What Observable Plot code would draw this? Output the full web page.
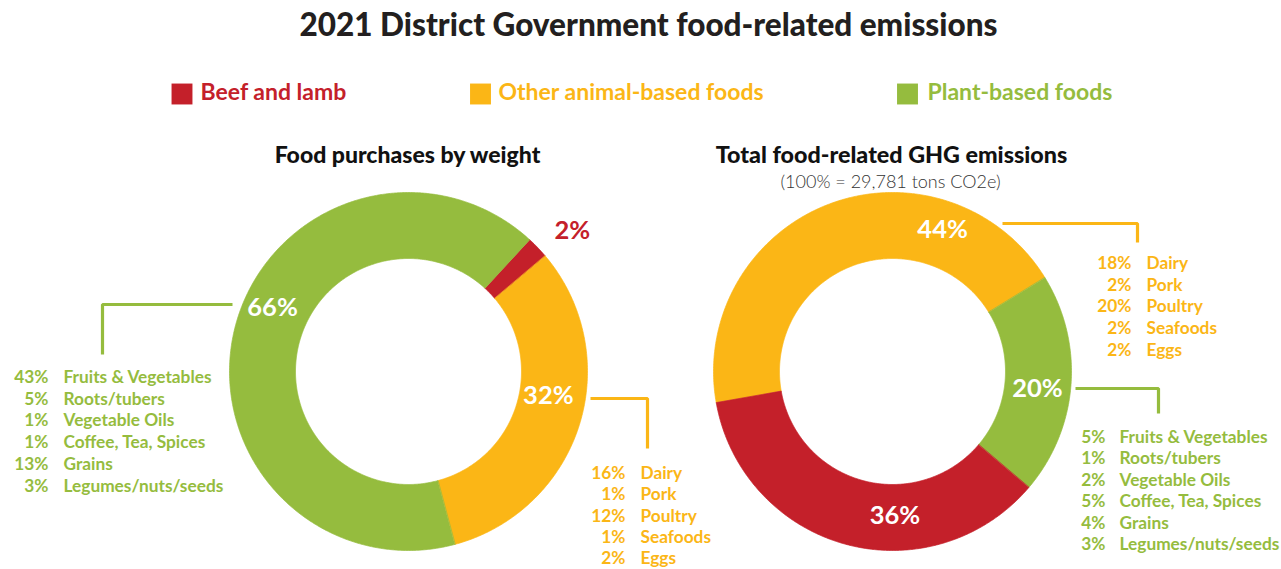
<!DOCTYPE html>
<html>
<head>
<meta charset="utf-8">
<script src="https://cdn.jsdelivr.net/npm/d3@7"></script>
<script src="https://cdn.jsdelivr.net/npm/@observablehq/plot@0.6"></script>
<style>
  html, body { margin: 0; padding: 0; background: #fff; }
  #chart svg { display: block; }
</style>
</head>
<body>
<div id="chart"></div>
<script>
// ---------------- DATA ----------------
const groups = ["Beef and lamb", "Other animal-based foods", "Plant-based foods"];
const groupColors = ["#C4202A", "#FBB616", "#95BC3E"];

// Food purchases by weight (%), per group
const weightShares = [2, 32, 66];
// Total food-related GHG emissions (%), per group
const emissionShares = [36, 44, 20];

const animalItems = ["Dairy", "Pork", "Poultry", "Seafoods", "Eggs"];
const animalWeight = [16, 1, 12, 1, 2];
const animalEmissions = [18, 2, 20, 2, 2];

const plantItems = ["Fruits & Vegetables", "Roots/tubers", "Vegetable Oils", "Coffee, Tea, Spices", "Grains", "Legumes/nuts/seeds"];
const plantWeight = [43, 5, 1, 1, 13, 3];
const plantEmissions = [5, 1, 2, 5, 4, 3];

const titleText = "2021 District Government food-related emissions";
const leftTitle = "Food purchases by weight";
const rightTitle = "Total food-related GHG emissions";
const rightSubtitle = "(100% = 29,781 tons CO2e)";

// ---------------- LAYOUT ----------------
const W = 1281, H = 569;
const FONT = "Lato, 'Open Sans', sans-serif";
const ring = {outer: 179, inner: 113};
const deg = Math.PI / 180;
const donuts = [
  {id: "weight", cx: 408, cy: 371, values: weightShares, order: [0, 1, 2], start: 42.6,
   labels: [
     {g: 0, angle: 49.3, r: 216, white: false},
     {g: 1, angle: 100, r: 142, white: true},
     {g: 2, angle: 295, r: 150, white: true}
   ]},
  {id: "emissions", cx: 892, cy: 371, values: emissionShares, order: [1, 2, 0], start: -100,
   labels: [
     {g: 1, angle: 19.5, r: 150, white: true},
     {g: 2, angle: 96.7, r: 146, white: true},
     {g: 0, angle: 179, r: 144, white: true}
   ]}
];

const lists = [
  {items: plantItems, values: plantWeight, g: 2, pctX: 48, nameX: 63, y0: 377, step: 21.7,
   connector: [[232, 304], [102, 304], [102, 354]]},
  {items: animalItems, values: animalWeight, g: 1, pctX: 625, nameX: 640, y0: 473, step: 21.3,
   connector: [[590, 398], [647, 398], [647, 448]]},
  {items: animalItems, values: animalEmissions, g: 1, pctX: 1131, nameX: 1146, y0: 263, step: 21.7,
   connector: [[1002, 223], [1137, 223], [1137, 242]]},
  {items: plantItems, values: plantEmissions, g: 2, pctX: 1105, nameX: 1119, y0: 437, step: 21.4,
   connector: [[1075, 388], [1158, 388], [1158, 413]]}
];

const legendLayout = [
  {swatch: 181.5, text: 200},
  {swatch: 480, text: 498},
  {swatch: 907, text: 927}
];

// ---------------- GEOMETRY (derived from data) ----------------
function slicePoints(cx, cy, a0, a1, key, group) {
  const n = Math.max(2, Math.ceil((a1 - a0) / (0.5 * deg)));
  const pts = [];
  for (let i = 0; i <= n; i++) {
    const a = a0 + (a1 - a0) * i / n;
    pts.push({x: cx + ring.outer * Math.sin(a), y: cy - ring.outer * Math.cos(a), key, group});
  }
  for (let i = n; i >= 0; i--) {
    const a = a0 + (a1 - a0) * i / n;
    pts.push({x: cx + ring.inner * Math.sin(a), y: cy - ring.inner * Math.cos(a), key, group});
  }
  return pts;
}

const sliceMarks = [];
const sliceLabels = [];
for (const d of donuts) {
  const entries = d.order.map(g => ({group: groups[g], value: d.values[g]}));
  const arcs = d3.pie().sort(null).value(e => e.value)
    .startAngle(d.start * deg).endAngle(d.start * deg + 2 * Math.PI)(entries);
  for (const a of arcs) {
    const pts = slicePoints(d.cx, d.cy, a.startAngle, a.endAngle, d.id + a.data.group, a.data.group);
    sliceMarks.push(Plot.line(pts, {
      x: "x", y: "y", z: "key", fill: "group", stroke: "group", strokeWidth: 0.7,
      curve: "linear-closed"
    }));
  }
  for (const l of d.labels) {
    sliceLabels.push({
      x: d.cx + l.r * Math.sin(l.angle * deg),
      y: d.cy - l.r * Math.cos(l.angle * deg),
      text: d.values[l.g] + "%",
      group: groups[l.g],
      white: l.white
    });
  }
}

const listRows = [];
const connectorPts = [];
lists.forEach((L, li) => {
  L.items.forEach((name, i) => {
    listRows.push({pctX: L.pctX, nameX: L.nameX, y: L.y0 + i * L.step,
                   pct: L.values[i] + "%", name, group: groups[L.g]});
  });
  L.connector.forEach(([x, y]) => connectorPts.push({x, y, id: li, group: groups[L.g]}));
});

const legendRows = groups.map((g, i) => ({group: g, sx: legendLayout[i].swatch, tx: legendLayout[i].text}));

const headings = [
  {x: 648, y: 25, text: titleText, size: 31.5, weight: 900, color: "#231F20"},
  {x: 407, y: 155.5, text: leftTitle, size: 23, weight: 900, color: "#111"},
  {x: 891, y: 155.5, text: rightTitle, size: 23.3, weight: 900, color: "#111"},
  {x: 890, y: 182, text: rightSubtitle, size: 18, weight: 300, color: "#333"}
];

// ---------------- PLOT ----------------
const chart = Plot.plot({
  width: W,
  height: H,
  margin: 0,
  x: {domain: [0, W], range: [0, W], axis: null},
  y: {domain: [0, H], range: [0, H], axis: null},
  color: {domain: groups, range: groupColors},
  style: {fontFamily: FONT, background: "#fff"},
  marks: [
    ...sliceMarks,
    Plot.line(connectorPts, {x: "x", y: "y", z: "id", stroke: "group", strokeWidth: 3.2,
                             strokeLinecap: "butt", strokeLinejoin: "miter"}),
    Plot.text(sliceLabels.filter(d => d.white), {x: "x", y: "y", text: "text", fill: "white",
                             fontSize: 25.5, fontWeight: 700}),
    Plot.text(sliceLabels.filter(d => !d.white), {x: "x", y: "y", text: "text", fill: "group",
                             fontSize: 25.5, fontWeight: 700}),
    Plot.text(listRows, {x: "pctX", y: "y", text: "pct", fill: "group", textAnchor: "end",
                         fontSize: 17.3, fontWeight: 700}),
    Plot.text(listRows, {x: "nameX", y: "y", text: "name", fill: "group", textAnchor: "start",
                         fontSize: 17.3, fontWeight: 700}),
    Plot.dot(legendRows, {x: "sx", y: 93.5, fill: "group", symbol: "square", r: 11.8, stroke: null}),
    Plot.text(legendRows, {x: "tx", y: 92.5, text: "group", fill: "group", textAnchor: "start",
                           fontSize: 23, fontWeight: 700}),
    ...headings.map(h => Plot.text([h], {x: "x", y: "y", text: "text", fill: h.color,
                           fontSize: h.size, fontWeight: h.weight}))
  ]
});
document.getElementById("chart").appendChild(chart);
</script>
</body>
</html>
